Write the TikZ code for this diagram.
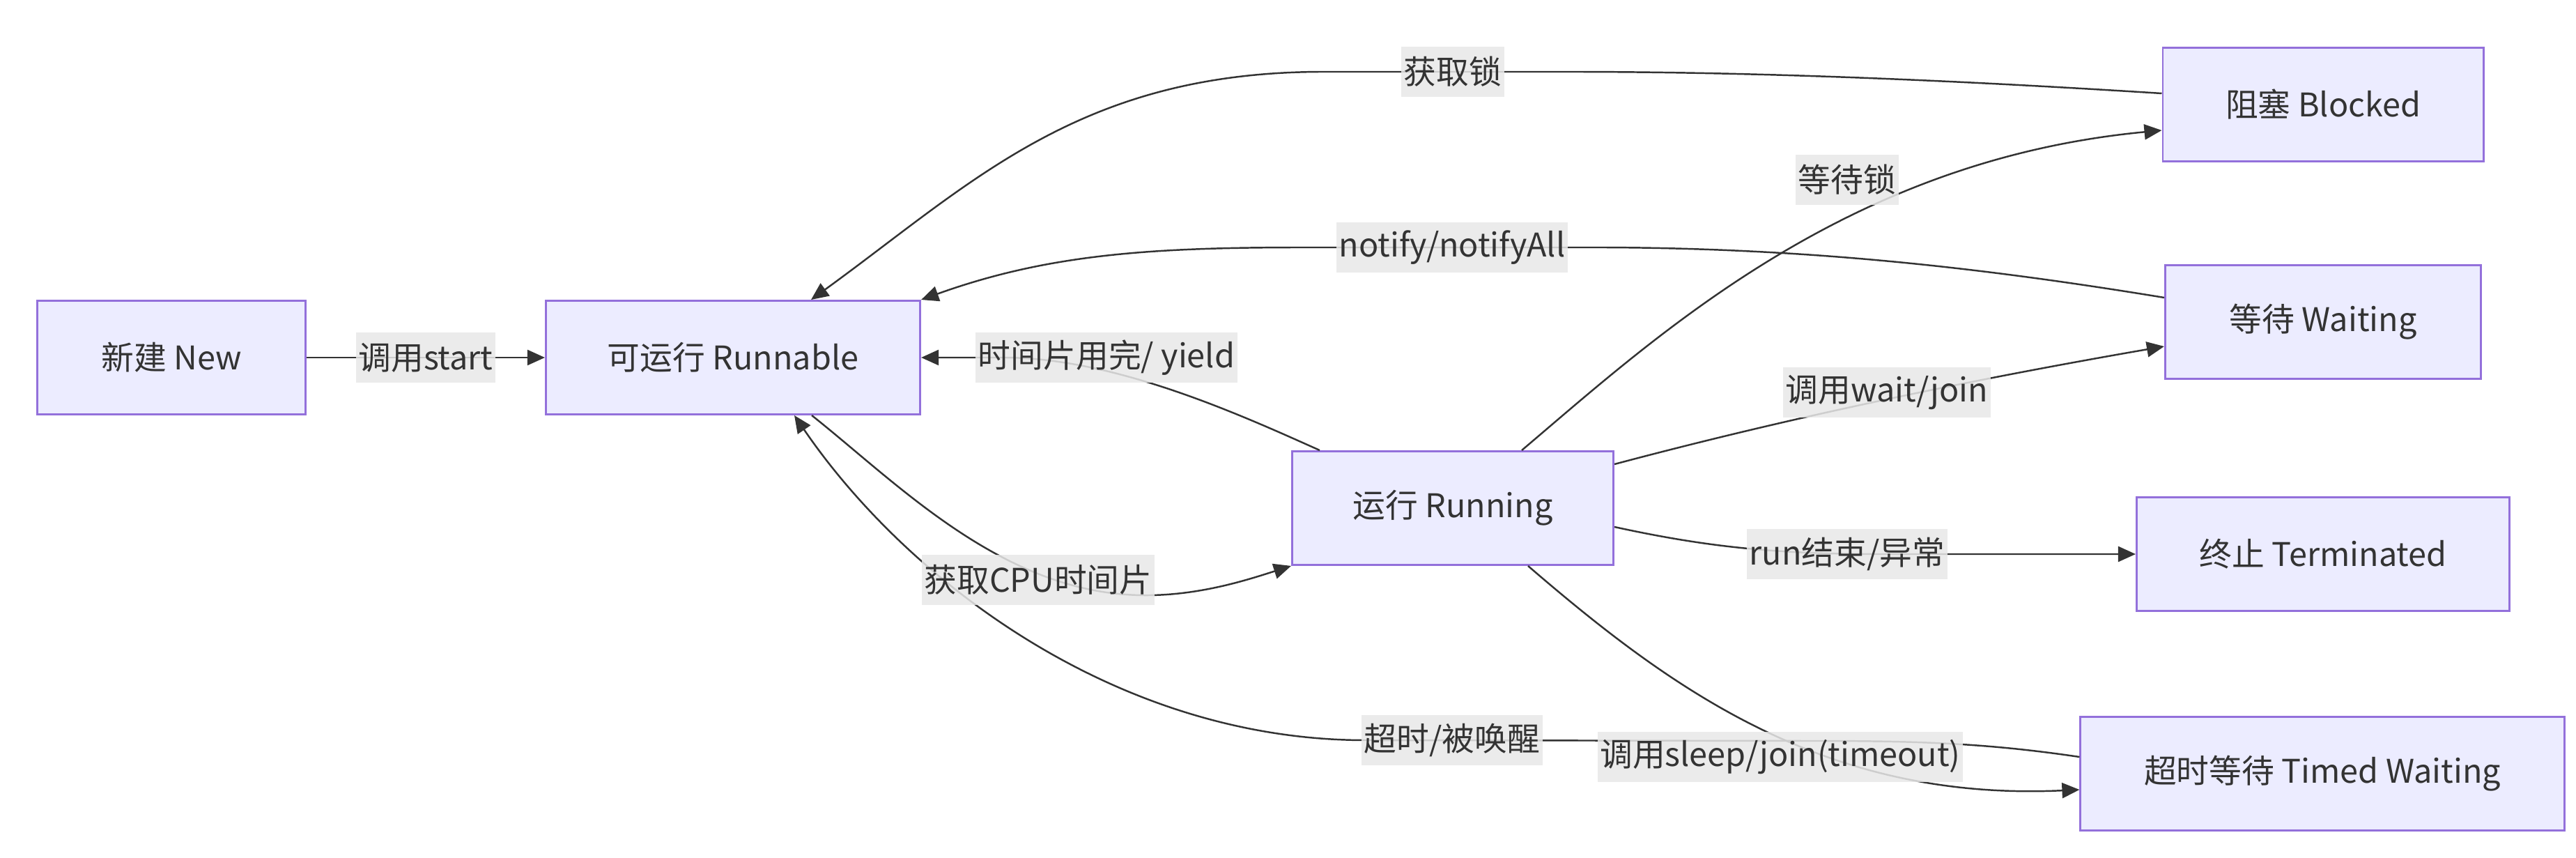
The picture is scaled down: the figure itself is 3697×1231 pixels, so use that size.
\documentclass[tikz,border=0pt]{standalone}
\usepackage{fontspec}
\setmainfont{Noto Sans CJK SC}
\usetikzlibrary{arrows.meta}
\definecolor{nodefill}{HTML}{ECECFF}
\definecolor{nodeline}{HTML}{9370DB}
\definecolor{edgeline}{HTML}{333333}
\definecolor{lblbg}{HTML}{E8E8E8}
\definecolor{txt}{HTML}{333333}

\begin{document}
\begin{tikzpicture}[x=0.01cm,y=-0.01cm,
  font=\fontsize{13.3pt}{16pt}\selectfont, text=txt,
  stbox/.style={draw=nodeline, fill=nodefill, line width=0.8pt,
    minimum height=1.63cm, inner sep=0pt},
  lbl/.style={fill=lblbg, fill opacity=0.85, text opacity=1,
    inner xsep=1pt, inner ysep=0pt, minimum height=0.72cm},
  conn/.style={draw=edgeline, line width=0.7pt},
  arr/.style={-{Triangle[length=0.25cm,width=0.22cm]}}
]
% canvas
\fill[white] (0,0) rectangle (3697,1231);
\useasboundingbox (0,0) rectangle (3697,1231);

% thread states
\node[stbox, minimum width=3.85cm] (nw) at (246,513)  {新建 New};
\node[stbox, minimum width=5.37cm] (rn) at (1052,513) {可运行 Runnable};
\node[stbox, minimum width=4.61cm] (rg) at (2085,729) {运行 Running};
\node[stbox, minimum width=4.60cm] (bk) at (3334,150) {阻塞 Blocked};
\node[stbox, minimum width=4.53cm] (wt) at (3334,462) {等待 Waiting};
\node[stbox, minimum width=5.35cm] (tm) at (3334,795) {终止 Terminated};
\node[stbox, minimum width=6.94cm] (tw) at (3333,1110) {超时等待 Timed Waiting};

% transitions
\draw[conn,arr] (nw.east) -- (rn.west);
\draw[conn,arr] ([shift={(113,0)}]rn.south)
  .. controls (1290,695) and (1440,852) .. (1640,854)
  .. controls (1720,855) and (1790,832) .. (rg.south west);
\draw[conn,arr] ([shift={(41,0)}]rg.north west)
  .. controls (1780,595) and (1600,513) .. (1440,513) -- (rn.east);
\draw[conn,arr] ([shift={(0,-16)}]bk.west)
  .. controls (2850,118) and (2550,103) .. (2250,103) -- (1900,103)
  .. controls (1550,103) and (1397,261) .. ([shift={(112,0)}]rn.north);
\draw[conn,arr] ([shift={(0,-35)}]wt.west)
  .. controls (2850,385) and (2600,356) .. (2300,355) -- (1870,355)
  .. controls (1650,355) and (1503,365) .. (rn.north east);
\draw[conn,arr] ([shift={(99,0)}]rg.north)
  .. controls (2380,480) and (2650,230) .. ([shift={(0,37)}]bk.west);
\draw[conn,arr] ([shift={(0,-63)}]rg.east)
  .. controls (2550,604) and (2800,550) .. ([shift={(0,35)}]wt.west);
\draw[conn,arr] ([shift={(0,27)}]rg.east)
  .. controls (2450,785) and (2550,795) .. (2700,795) -- (tm.west);
\draw[conn,arr] ([shift={(108,0)}]rg.south)
  .. controls (2400,990) and (2620,1150) .. ([shift={(0,23)}]tw.west);
\draw[conn,arr] ([shift={(0,-24)}]tw.west)
  .. controls (2850,1066) and (2750,1063) .. (2600,1063) -- (1960,1062)
  .. controls (1600,1062) and (1300,830) .. ([shift={(88,0)}]rn.south);

% transition labels
\node[lbl] (l1)  at (611,513)   {调用start};
\node[lbl] (l2)  at (1588,513)  {时间片用完/ yield};
\node[lbl] (l3)  at (1490,832)  {获取CPU时间片};
\node[lbl] (l4)  at (2085,103)  {获取锁};
\node[lbl] (l5)  at (2084,355)  {notify/notifyAll};
\node[lbl] (l6)  at (2651,258)  {等待锁};
\node[lbl] (l7)  at (2708,563)  {调用wait/join};
\node[lbl] (l8)  at (2651,795)  {run结束/异常};
\node[lbl] (l9)  at (2555,1086) {调用sleep/join(timeout)};
\node[lbl] (l10) at (2084,1062) {超时/被唤醒};
\end{tikzpicture}
\end{document}
